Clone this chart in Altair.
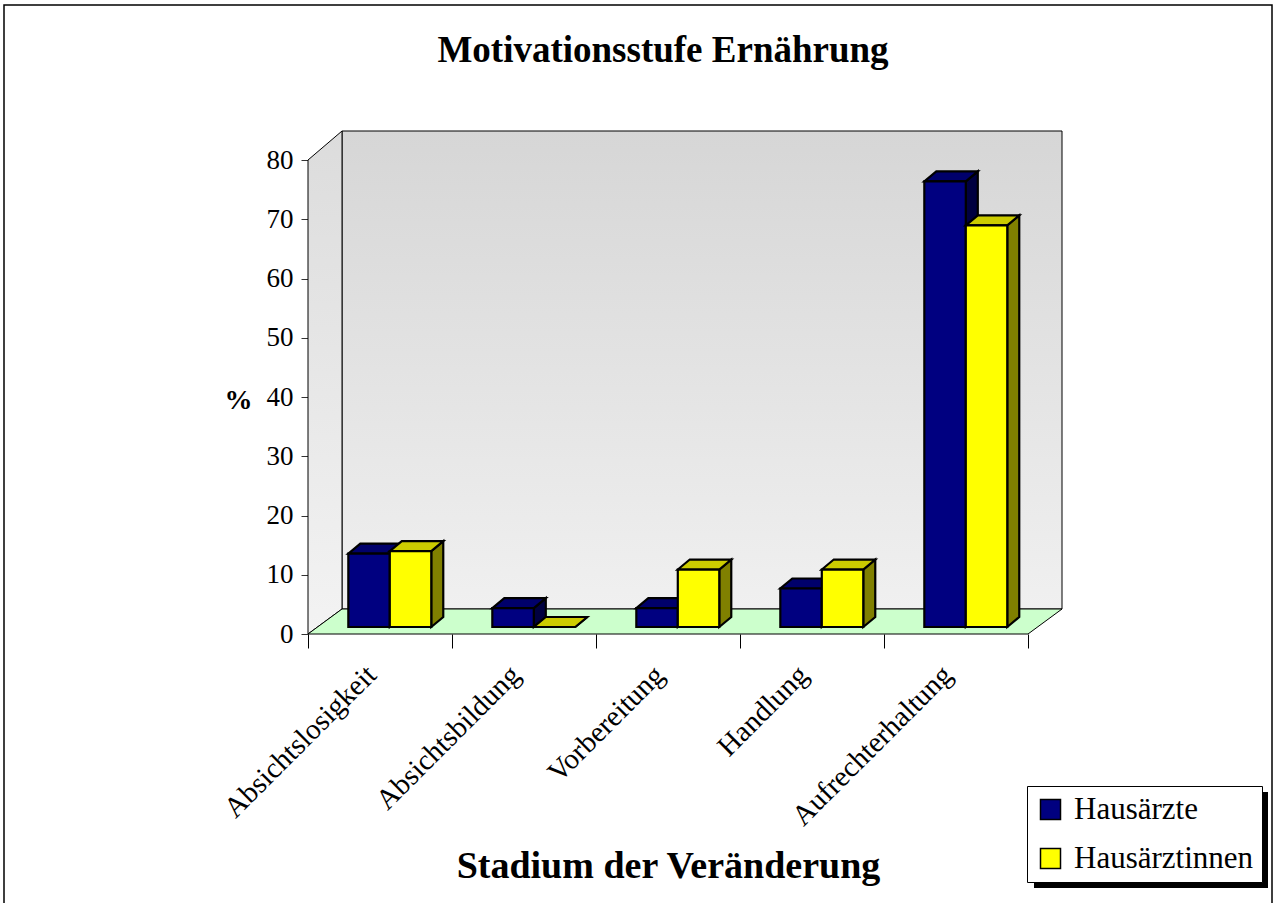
import altair as alt
import pandas as pd

# ---------------- data ----------------
categories = ["Absichtslosigkeit", "Absichtsbildung", "Vorbereitung", "Handlung", "Aufrechterhaltung"]
series_names = ["Hausärzte", "Hausärztinnen"]
hausaerzte = [12.4, 3.2, 3.2, 6.5, 75.2]
hausaerztinnen = [12.8, 0.0, 9.7, 9.7, 67.8]
y_ticks = [0, 10, 20, 30, 40, 50, 60, 70, 80]
chart_title = "Motivationsstufe Ernährung"

front_colors = ["#000080", "#ffff00"]
top_colors = ["#00006b", "#cccc00"]
side_colors = ["#000040", "#808000"]

# ---------------- geometry (style) ----------------
FONT = "Liberation Serif"
PX_PER_CAT = 144.0
PX_PER_PCT = 5.925
WIDTH = 754
HEIGHT = 503
X_MAX = WIDTH / PX_PER_CAT
Y_MAX = HEIGHT / PX_PER_PCT
ROOM_DX = 34 / PX_PER_CAT
ROOM_DY = 25 / PX_PER_PCT
BAR_START = 0.28
BAR_W = 0.288
BAR_BASE = 7 / PX_PER_PCT
BAR_DX = 12 / PX_PER_CAT
BAR_DY = 10 / PX_PER_PCT

xs = alt.Scale(domain=[0, X_MAX], nice=False, zero=False)
ys = alt.Scale(domain=[0, Y_MAX], nice=False, zero=False)

# ---------------- build bar faces from data ----------------
front_rows, top_rows, side_rows = [], [], []
for s, (name, vals) in enumerate(zip(series_names, [hausaerzte, hausaerztinnen])):
    for i, (cat, v) in enumerate(zip(categories, vals)):
        x0 = i + BAR_START + s * BAR_W
        x1 = x0 + BAR_W
        y0 = BAR_BASE
        y1 = BAR_BASE + v
        key = f"{s}-{i}"
        front_rows.append(dict(series=name, s=s, stage=cat, value=v, x=x0, x2=x1, y=y0, y2=y1))
        top_rows.append(dict(key=key, s=s, c=top_colors[s], y=y1, x=x0, x2=x1))
        top_rows.append(dict(key=key, s=s, c=top_colors[s], y=y1 + BAR_DY, x=x0 + BAR_DX, x2=x1 + BAR_DX))
        side_rows.append(dict(key=key, s=s, c=side_colors[s], x=x1, y=y0, y2=y1))
        side_rows.append(dict(key=key, s=s, c=side_colors[s], x=x1 + BAR_DX, y=y0 + BAR_DY, y2=y1 + BAR_DY))

front_df = pd.DataFrame(front_rows)
top_df = pd.DataFrame(top_rows)
side_df = pd.DataFrame(side_rows)

n_cat = len(categories)
back_df = pd.DataFrame([dict(x=ROOM_DX, x2=X_MAX, y=ROOM_DY, y2=Y_MAX)])
sidewall_df = pd.DataFrame([dict(x=0.0, y=0.0, y2=float(y_ticks[-1])),
                            dict(x=ROOM_DX, y=ROOM_DY, y2=Y_MAX)])
floor_df = pd.DataFrame([dict(y=0.0, x=0.0, x2=float(n_cat)),
                         dict(y=ROOM_DY, x=ROOM_DX, x2=n_cat + ROOM_DX)])

label_array = "[" + ",".join("'" + c + "'" for c in categories) + "]"
x_axis = alt.Axis(
    values=[k * 0.5 for k in range(0, 2 * n_cat + 1)],
    labelExpr=f"datum.value % 1 == 0.5 ? {label_array}[floor(datum.value)] : ''",
    tickOpacity={"condition": {"test": "datum.value % 1 != 0", "value": 0}, "value": 1},
    tickSize=14, tickColor="#000000", tickWidth=1,
    domain=False, grid=False,
    labelAngle=-45, labelAlign="right", labelBaseline="middle",
    labelPadding=22, labelOffset=-9, labelFont=FONT, labelFontSize=29, labelColor="#000000",
    labelOverlap=False, labelFlush=False, labelBound=False, labelLimit=500,
    title="Stadium der Veränderung", titleFont=FONT, titleFontSize=38, titleFontWeight="bold",
    titleColor="#000000", titleX=360, titleY=243, titleAlign="center", titleBaseline="alphabetic",
)
y_axis = alt.Axis(
    values=y_ticks, tickSize=7, tickColor="#333333", tickWidth=1,
    domain=False, grid=False,
    labelFont=FONT, labelFontSize=27, labelColor="#000000", labelPadding=8,
    title="%", titleFont=FONT, titleFontSize=28, titleFontWeight="bold", titleColor="#000000",
    titleAngle=0, titleX=-70, titleY=269, titleAlign="center", titleBaseline="middle",
)

def X(field="x"):
    return alt.X(f"{field}:Q", scale=xs, axis=x_axis, stack=None)

def Y(field="y"):
    return alt.Y(f"{field}:Q", scale=ys, axis=y_axis, stack=None)

back_gradient = alt.Gradient(gradient="linear", x1=0, x2=0, y1=0, y2=1,
                             stops=[alt.GradientStop(color="#d6d6d6", offset=0),
                                    alt.GradientStop(color="#f0f0f0", offset=1)])
side_gradient = alt.Gradient(gradient="linear", x1=0, x2=0, y1=0, y2=1,
                             stops=[alt.GradientStop(color="#dcdcdc", offset=0),
                                    alt.GradientStop(color="#f3f3f3", offset=1)])

back_wall = alt.Chart(back_df).mark_rect(color=back_gradient, stroke="#000000", strokeWidth=1).encode(
    x=X(), x2="x2:Q", y=Y(), y2="y2:Q",
)

side_wall = alt.Chart(sidewall_df).mark_area(orient="vertical", color=side_gradient,
                                             stroke="#000000", strokeWidth=1).encode(
    x=X(), y=Y(), y2="y2:Q",
)

floor = alt.Chart(floor_df).mark_area(orient="horizontal", color="#ccffcc",
                                      stroke="#000000", strokeWidth=1).encode(
    y=Y(), x=X(), x2="x2:Q",
)

bar_layers = []
for s in range(len(series_names)):
    side = alt.Chart(side_df[side_df.s == s]).mark_area(
        orient="vertical", stroke="#000000", strokeWidth=2.2, strokeJoin="miter", opacity=1
    ).encode(
        x=X(), y=Y(), y2="y2:Q",
        detail="key:N",
        color=alt.Color("c:N", scale=None),
    )
    top = alt.Chart(top_df[top_df.s == s]).mark_area(
        orient="horizontal", stroke="#000000", strokeWidth=2.2, strokeJoin="miter", opacity=1
    ).encode(
        y=Y(), x=X(), x2="x2:Q",
        detail="key:N",
        color=alt.Color("c:N", scale=None),
    )
    front = alt.Chart(front_df[front_df.s == s]).mark_rect(
        stroke="#000000", strokeWidth=2.2, opacity=1
    ).encode(
        x=X(), x2="x2:Q", y=Y(), y2="y2:Q",
        color=alt.Color(
            "series:N",
            scale=alt.Scale(domain=series_names, range=front_colors),
            legend=alt.Legend(
                title=None, orient="none", legendX=719, legendY=655, zindex=1,
                fillColor="#ffffff", strokeColor="#000000", padding=8,
                symbolType="square", symbolSize=400, symbolStrokeColor="#000000",
                symbolStrokeWidth=1.5, symbolOpacity=1,
                labelFont=FONT, labelFontSize=31, labelColor="#000000",
                labelOffset=8, rowPadding=17, labelLimit=400,
            ),
        ),
    )
    bar_layers += [side, top, front]

# title, legend shadow and outer border (decoration)
one = pd.DataFrame([{"t": chart_title}])
title_mark = alt.Chart(one).mark_text(
    font=FONT, fontSize=37, fontWeight="bold", color="#000000", align="center", baseline="alphabetic"
).encode(text="t:N", x=alt.value(663 - 308), y=alt.value(62 - 131))

shadow = alt.Chart(one).mark_rect(color="#000000").encode(
    x=alt.value(1034 - 308), x2=alt.value(1268 - 308),
    y=alt.value(792 - 131), y2=alt.value(888 - 131),
)
border = alt.Chart(one).mark_rect(
    fillOpacity=0, stroke="#000000", strokeWidth=1.5
).encode(
    x=alt.value(4 - 308), x2=alt.value(1272 - 308),
    y=alt.value(5 - 131), y2=alt.value(910 - 131),
)

chart = alt.layer(
    border, back_wall, side_wall, floor, *bar_layers, shadow, title_mark
).properties(
    width=WIDTH, height=HEIGHT,
    autosize=alt.AutoSizeParams(type="none"),
    padding={"left": 308, "top": 131, "right": 215, "bottom": 269},
    background="#ffffff",
).configure_view(stroke=None)

chart.save("out.html", embed_options={"renderer": "svg", "actions": False})
